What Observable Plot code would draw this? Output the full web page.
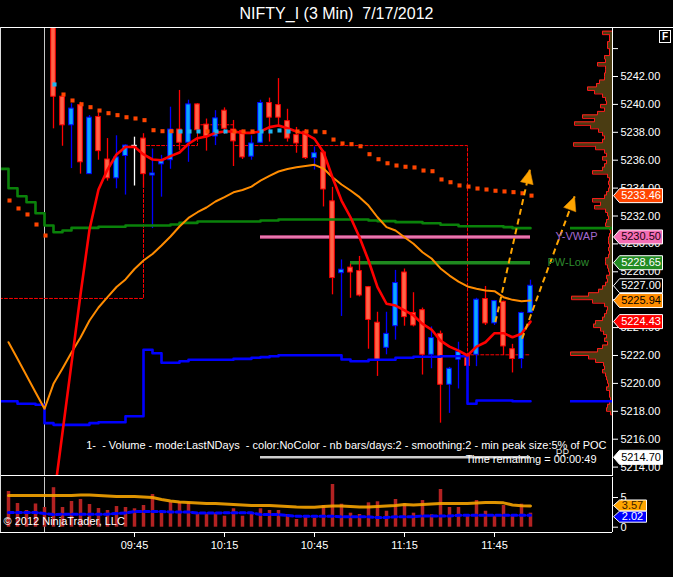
<!DOCTYPE html>
<html><head><meta charset="utf-8">
<script src="https://cdn.jsdelivr.net/npm/d3@7"></script>
<script src="https://cdn.jsdelivr.net/npm/@observablehq/plot@0.6"></script>
<style>
html,body{margin:0;padding:0;background:#000;}
#wrap{position:relative;width:673px;height:577px;background:#000;overflow:hidden;font-family:"Liberation Sans",Arial,sans-serif;}
#title{position:absolute;left:0;top:0;width:673px;height:27px;line-height:28px;text-align:center;color:#fff;font-size:16px;white-space:pre;}
#main{position:absolute;left:0;top:28px;}
#vol{position:absolute;left:0;top:477px;}
.hl{position:absolute;background:#fff;}
#fbox{position:absolute;left:659px;top:30px;width:10px;height:11px;border:1px solid #fff;color:#fff;font-size:10px;font-weight:bold;line-height:11px;text-align:center;}
svg{display:block;overflow:visible;}
</style></head>
<body>
<div id="wrap">
  <div id="title">NIFTY_I (3 Min)  7/17/2012</div>
  <div id="main"></div>
  <div id="vol"></div>
  <div class="hl" style="left:0;top:27px;width:673px;height:1px;"></div>
  <div class="hl" style="left:0;top:475px;width:612px;height:1px;"></div>
  <div class="hl" style="left:0;top:27px;width:1px;height:505px;background:#ddd;"></div>
  <div id="fbox">F</div>
</div>
<script>
// ---------------- data (times are minutes after midnight, 3-minute bars) ----------------
const priorTimesStart = 543;   // last bars of previous session shown at the left
const sessionStart = 558;      // first bar of 7/17 session drawn as candle
const lastBar = 717;
const sessionBreak = 555;

const opens  = [5246.6,5240.55,5238.5,5239.95,5235.0,5239.1,5236.05,5234.7,5236.3,5237.05,5237.55,5234.9,5235.7,5236.0,5238.2,5237.25,5240.0,5238.55,5237.7,5239.55,5238.2,5238.1,5236.25,5237.25,5240.1,5239.95,5238.8,5237.8,5238.05,5236.15,5236.55,5233.05,5227.9,5228.3,5228.05,5226.9,5224.35,5222.55,5224.1,5227.95,5225.05,5225.25,5222.05,5223.55,5219.9,5221.7,5222.0,5222.05,5226.05,5224.3,5225.85,5222.45,5221.75,5225.05];
const highs  = [5247.2,5240.6,5240.05,5240.15,5239.2,5239.4,5237.55,5237.75,5237.1,5237.65,5237.9,5236.8,5236.35,5239.8,5241.0,5240.3,5240.05,5238.95,5239.55,5239.75,5238.85,5238.15,5237.75,5240.3,5240.45,5241.85,5239.65,5238.35,5238.2,5236.95,5236.7,5234.05,5228.85,5228.55,5229.1,5226.95,5225.1,5225.1,5228.1,5228.2,5226.5,5225.4,5224.05,5223.75,5221.15,5222.95,5222.1,5226.1,5226.95,5225.95,5225.9,5222.8,5225.1,5227.4];
const lows   = [5238.25,5237.0,5235.4,5235.0,5235.0,5236.0,5234.5,5233.95,5233.5,5234.15,5234.0,5231.1,5233.35,5235.35,5236.7,5235.85,5237.9,5236.65,5237.05,5237.85,5235.55,5236.05,5236.0,5237.2,5237.3,5238.35,5237.3,5236.5,5236.05,5235.3,5232.65,5226.35,5224.8,5226.1,5226.2,5222.45,5220.5,5222.05,5223.1,5224.1,5224.05,5220.6,5221.05,5217.15,5217.85,5219.6,5220.15,5221.2,5224.15,5224.15,5222.0,5220.75,5221.05,5225.0];
const closes = [5240.55,5238.5,5239.7,5235.85,5239.05,5236.65,5234.7,5236.2,5237.05,5237.05,5235.0,5235.05,5236.0,5238.2,5237.25,5240.0,5238.15,5237.7,5239.0,5238.25,5237.35,5236.2,5237.2,5240.1,5239.05,5239.05,5237.55,5237.2,5236.15,5236.5,5233.9,5227.55,5228.15,5227.95,5226.3,5224.55,5221.65,5223.55,5227.2,5224.75,5224.15,5222.05,5223.25,5219.9,5221.05,5222.25,5221.25,5226.0,5224.3,5225.9,5222.65,5221.75,5225.05,5227.0];

// fast moving average (red) – session bars
const fastMA = [5211.55,5216.48,5221.43,5226.37,5231.03,5233.9,5235.33,5236.41,5236.95,5236.96,5236.41,5236.05,5236.0,5236.29,5236.55,5237.18,5237.58,5237.7,5237.96,5238.06,5238.06,5237.96,5237.96,5238.06,5238.37,5238.49,5238.29,5238.06,5237.89,5237.53,5236.57,5234.76,5233.11,5231.91,5230.48,5228.81,5226.9,5225.71,5225.58,5225.23,5224.87,5224.27,5223.86,5223.07,5222.64,5222.35,5222.0,5222.64,5222.95,5223.6,5223.6,5223.31,5223.56,5224.43];
// slow average (orange) – from 543
const slowMA = [5222.95,5221.76,5220.57,5219.37,5218.18,5219.97,5221.07,5222.22,5223.29,5224.51,5225.44,5226.18,5226.91,5227.45,5228.2,5228.81,5229.28,5229.89,5230.53,5231.25,5231.86,5232.27,5232.61,5233.04,5233.36,5233.7,5233.86,5234.11,5234.54,5234.87,5235.19,5235.37,5235.49,5235.58,5235.67,5235.4,5234.78,5234.26,5233.83,5233.35,5232.75,5231.91,5231.2,5230.96,5230.48,5230.01,5229.4,5228.95,5228.24,5227.73,5227.3,5226.95,5226.78,5226.66,5226.61,5226.18,5225.99,5225.89,5225.94];
// trailing stop dots – from 543
const trailDots = [5233.11,5232.54,5232.11,5231.39,5230.6,5241.43,5240.71,5240.28,5240.01,5239.8,5239.56,5239.37,5239.23,5239.08,5238.99,5238.87,5238.15,5238.08,5238.08,5238.06,5238.06,5238.06,5238.06,5238.06,5238.06,5238.06,5238.06,5238.06,5238.06,5238.06,5238.13,5238.06,5238.06,5238.06,5238.06,5238.01,5237.48,5237.2,5237.15,5237.0,5236.43,5236.07,5235.78,5235.62,5235.53,5235.48,5235.26,5235.21,5234.62,5234.42,5234.19,5234.11,5233.97,5233.9,5233.81,5233.76,5233.71,5233.63,5233.46];
const trailCyanTimes = [558,600,603,606,612,615,627,630,633,636];
// step levels (green, blue) – from 540
const greenLevels = [5235.38,5233.99,5233.42,5232.99,5232.2,5231.32,5230.84,5230.96,5231.15,5231.15,5231.15,5231.23,5231.23,5231.23,5231.32,5231.32,5231.32,5231.32,5231.32,5231.39,5231.51,5231.51,5231.61,5231.61,5231.61,5231.61,5231.61,5231.61,5231.61,5231.68,5231.68,5231.75,5231.75,5231.75,5231.75,5231.75,5231.75,5231.75,5231.75,5231.75,5231.75,5231.68,5231.63,5231.63,5231.56,5231.56,5231.56,5231.48,5231.48,5231.37,5231.37,5231.27,5231.27,5231.27,5231.27,5231.27,5231.2,5231.13,5231.13,5231.13];
const blueLevels = [5218.72,5218.72,5218.54,5218.54,5218.47,5217.15,5217.03,5217.03,5217.03,5217.03,5217.15,5217.22,5217.22,5217.22,5217.65,5217.65,5222.41,5222.16,5221.48,5221.48,5221.59,5221.69,5221.69,5221.69,5221.69,5221.69,5221.76,5221.76,5221.84,5221.88,5221.95,5222.02,5222.02,5222.02,5222.02,5222.02,5222.02,5222.02,5221.71,5221.59,5221.59,5221.69,5221.69,5221.69,5221.84,5221.84,5221.91,5221.91,5221.91,5221.95,5221.95,5221.95,5218.54,5218.77,5218.77,5218.77,5218.77,5218.72,5218.72,5218.72];
// red dashed step level
const dashTimes  = [540, 588, 606, 618, 696, 717];
const dashLevels = [5226.09, 5237.05, 5238.54, 5237.05, 5222.05, 5222.05];
// horizontal levels
const yVwap = 5230.50, yVwapFrom = 627;
const pwLow = 5228.65, pwLowFrom = 657;
const lowLine = 5214.70, lowLineFrom = 627;
// hand-drawn arrows
const arrowT1 = [705.3, 714.2], arrowP1 = [5224.4, 5223.2];
const arrowT2 = [716.8, 731.7], arrowP2 = [5235.33, 5233.4];
// volume profile (relative volume per 0.25 pt, from 5245.25 downward)
const profileTop = 5245.25, profileStep = 0.25;
const profileVolume = [0,10,3,3,5,5,3,3,8,7,15,7,7,8,8,13,16,25,18,10,7,6,12,8,15,30,18,38,22,14,10,8,10,39,17,8,6,10,6,8,10,20,5,3,4,3,4,6,8,20,12,18,7,5,4,6,7,3,2,3,4,4,3,4,3,4,7,7,5,4,3,6,5,7,10,14,24,41,20,8,5,6,8,10,17,19,12,9,6,8,5,10,15,42,24,17,9,8,10,7,6,5,4,6,3,3,2,3,5,6,2,0];
// volume panel – from 543
const volume = [6.01,3.99,2.81,3.91,3.32,6.65,3.32,4.33,4.66,3.82,3.15,2.81,3.48,3.32,3.1,3.65,5.5,2.36,4.16,4.16,4.1,2.19,2.19,2.36,1.85,3.1,1.85,2.36,3.1,2.81,2.81,2.14,1.3,1.85,1.52,3.65,7.19,3.87,2.36,2.14,4.1,4.28,2.69,4.66,3.94,2.36,4.49,2.09,6.35,3.32,3.32,1.85,4.49,2.69,1.85,3.65,1.85,3.87,2.36];
const volumeMA = [5.34,5.34,5.34,5.34,5.34,5.34,5.34,5.34,5.42,5.42,5.34,5.25,5.17,5.17,5.17,5.08,5.0,4.66,4.41,4.24,4.16,4.07,3.99,3.99,3.91,3.82,3.74,3.65,3.65,3.65,3.57,3.48,3.4,3.37,3.37,3.48,3.57,3.57,3.48,3.4,3.4,3.48,3.57,3.65,3.82,3.74,3.82,3.91,3.99,3.99,3.99,3.99,4.07,4.16,4.16,4.1,3.75,3.62,3.57];
const volumeAvg = [2.47,2.47,2.47,2.47,2.3,2.14,2.19,2.19,2.19,2.19,2.19,2.19,2.3,2.39,2.64,2.64,2.64,2.64,2.56,2.56,2.56,2.39,2.39,2.39,2.42,2.42,2.42,2.42,2.14,2.14,2.14,1.97,1.85,1.85,1.85,1.85,1.85,1.75,1.75,1.75,1.75,1.63,1.63,1.75,1.75,1.75,1.89,1.89,1.89,1.89,2.02,2.02,2.02,2.02,2.02,2.02,2.02,2.02,2.02];
// axes & labels
const timeTicks = [585, 615, 645, 675, 705];
const priceTicks = [5214,5216,5218,5220,5222,5224,5226,5228,5230,5232,5234,5236,5238,5240,5242,5244];
const volumeTicks = [0, 5];
const tagPrices = [5233.46, 5230.50, 5228.65, 5227.00, 5225.94, 5224.43, 5214.70];
const tagFills  = ["#FF4500", "#F46EB4", "#228B22", "#000000", "#FF8C00", "#FF0000", "#FFFFFF"];
const tagInks   = ["#FFFFFF", "#1a0010", "#FFFFFF", "#FFFFFF", "#000000", "#FFFFFF", "#000000"];
const volTagValues = [3.57, 2.02];
const volTagFills = ["#FFA500", "#0000FF"];
const volTagInks = ["#3a2000", "#FFFFFF"];
const studyText = "1-\u00A0\u00A0- Volume - mode:LastNDays\u00A0\u00A0- color:NoColor - nb bars/days:2 - smoothing:2 - min peak size:5% of POC";
const timerText = "Time remaining = 00:00:49";

// ---------------- geometry of the panels ----------------
const T_LEFT = 540.333, T_AXIS = 744.333;
const P_MIN = 5213.326, P_MAX = 5245.441;
const V_MIN = -0.892, V_MAX = 8.367;
const PX_PER_MIN = 612 / (T_AXIS - T_LEFT);
const PX_PER_PT = 448 / (P_MAX - P_MIN);
const PROFILE_MINUTES = 14;           // width of the POC row, in minutes of x
const profileMax = d3.max(profileVolume);

// ---------------- tables ----------------
const fullTimes = d3.range(priorTimesStart, lastBar + 1, 3);
const sessTimes = d3.range(sessionStart, lastBar + 1, 3);
const stepTimes = [540, ...fullTimes];
const candles = sessTimes.map((t, i) => ({t, o: opens[i], h: highs[i], l: lows[i], c: closes[i]}));
const up = d => d.c > d.o, down = d => d.c < d.o;
const fast = sessTimes.map((t, i) => ({t, v: fastMA[i]}));
const slow = fullTimes.map((t, i) => ({t, v: slowMA[i]}));
const dots = fullTimes.map((t, i) => ({t, v: trailDots[i], cyan: trailCyanTimes.includes(t)}));
const green = stepTimes.map((t, i) => ({t, v: greenLevels[i]}));
const blue = stepTimes.map((t, i) => ({t, v: blueLevels[i]}));
const dash = dashTimes.map((t, i) => ({t, v: dashLevels[i]}));
const profile = profileVolume.map((w, i) => ({p: profileTop - i * profileStep, w}));
const arrows = arrowT1.map((t, i) => ({t1: t, p1: arrowP1[i], t2: arrowT2[i], p2: arrowP2[i],
  rot: Math.atan2((arrowT2[i] - t) * PX_PER_MIN, (arrowP2[i] - arrowP1[i]) * PX_PER_PT) * 180 / Math.PI}));
const tags = tagPrices.map((p, i) => ({p, fill: tagFills[i], ink: tagInks[i]}));
const vols = fullTimes.map((t, i) => ({t, v: volume[i], ma: volumeMA[i], avg: volumeAvg[i]}));
const volTags = volTagValues.map((v, i) => ({v, fill: volTagFills[i], ink: volTagInks[i]}));

const tagShape = (w, h) => ({draw(ctx) { const hh = h / 2; ctx.moveTo(0, 0); ctx.lineTo(6, -hh); ctx.lineTo(w, -hh); ctx.lineTo(w, hh); ctx.lineTo(6, hh); ctx.closePath(); }});
const arrowHead = {draw(ctx) { ctx.moveTo(0, 0); ctx.lineTo(-6.5, 14); ctx.lineTo(6.5, 14); ctx.closePath(); }};
const fmtTime = t => String(Math.floor(t / 60)).padStart(2, "0") + ":" + String(t % 60).padStart(2, "0");
const FONT = "Liberation Sans, Arial, sans-serif";

const upFill = "#0AA8FF", upLine = "#0000FF", dnFill = "#FF6347", dnLine = "#FF0000";

// ---------------- price panel ----------------
const mainPlot = Plot.plot({
  width: 673, height: 448,
  marginTop: 0, marginBottom: 0, marginLeft: 0, marginRight: 61,
  x: {domain: [T_LEFT, T_AXIS], axis: null},
  y: {domain: [P_MIN, P_MAX]},
  color: {type: "identity"},
  style: {background: "transparent", color: "#fff", fontFamily: FONT, fontSize: "11px", overflow: "visible"},
  marks: [
    // volume profile on the right edge
    Plot.areaX(profile, {y: "p", x1: () => T_AXIS, x2: d => T_AXIS - d.w / profileMax * PROFILE_MINUTES, curve: "step-after", fill: "#4a3c12", clip: true}),
    Plot.lineX(profile, {y: "p", x: d => T_AXIS - d.w / profileMax * PROFILE_MINUTES, curve: "step-after", stroke: "#FF1A1A", strokeWidth: 1, clip: true}),
    // session break
    Plot.ruleX([sessionBreak], {stroke: "#C8C8C8", strokeWidth: 1}),
    // dashed level
    Plot.line(dash, {x: "t", y: "v", curve: "step-after", stroke: "#FF0000", strokeWidth: 1, strokeDasharray: "3,2", clip: true}),
    // horizontal levels
    Plot.ruleY([yVwap], {x1: yVwapFrom, x2: lastBar, stroke: "#D0508F", strokeWidth: 3.5}),
    Plot.ruleY([yVwap], {x1: yVwapFrom, x2: lastBar, stroke: "#FF9BCB", strokeWidth: 1}),
    Plot.ruleY([pwLow], {x1: pwLowFrom, x2: lastBar, stroke: "#1F8A1F", strokeWidth: 3.5}),
    Plot.ruleY([lowLine], {x1: lowLineFrom, x2: lastBar, stroke: "#CFCFCF", strokeWidth: 2.5}),
    // candles
    Plot.ruleX(candles, {x: "t", y1: "l", y2: "h", stroke: d => up(d) ? upLine : down(d) ? dnLine : "#FFFFFF", strokeWidth: 1.3, clip: true}),
    Plot.rect(candles.filter(d => d.c !== d.o), {x1: d => d.t - 1.5, x2: d => d.t + 1.5, insetLeft: 2.2, insetRight: 2.2, y1: "o", y2: "c",
      fill: d => up(d) ? upFill : dnFill, stroke: d => up(d) ? upLine : dnLine, strokeWidth: 1, clip: true}),
    Plot.ruleY(candles.filter(d => d.c === d.o), {y: "o", x1: d => d.t - 0.9, x2: d => d.t + 0.9, stroke: "#FFFFFF", strokeWidth: 1.5, clip: true}),
    // indicators
    Plot.line(green, {x: "t", y: "v", curve: "step-after", stroke: "#0A820A", strokeWidth: 2.6, clip: true}),
    Plot.line(blue, {x: "t", y: "v", curve: "step-after", stroke: "#0000FF", strokeWidth: 2.6, clip: true}),
    Plot.ruleY([greenLevels[greenLevels.length - 1]], {x1: T_AXIS - PROFILE_MINUTES, x2: T_AXIS, stroke: "#0A820A", strokeWidth: 2.6}),
    Plot.ruleY([blueLevels[blueLevels.length - 1]], {x1: T_AXIS - PROFILE_MINUTES, x2: T_AXIS, stroke: "#0000FF", strokeWidth: 2.6}),
    Plot.line(slow, {x: "t", y: "v", stroke: "#FF8C00", strokeWidth: 2, clip: true}),
    Plot.line(fast, {x: "t", y: "v", stroke: "#FF0000", strokeWidth: 2.6, clip: true}),
    Plot.dot(dots, {x: "t", y: "v", symbol: "square", r: 2.3, dx: 1, fill: d => d.cyan ? "#1EB6F2" : "#FF4500", clip: true}),
    // drawn arrows
    Plot.link(arrows, {x1: "t1", y1: "p1", x2: "t2", y2: "p2", stroke: "#FFA500", strokeWidth: 2, strokeDasharray: "6,4"}),
    Plot.dot(arrows, {x: "t2", y: "p2", symbol: arrowHead, r: 5, rotate: "rot", fill: "#FFA500", stroke: "#E08A00", strokeWidth: 0.5}),
    // level labels
    Plot.text([yVwap], {x: () => lastBar, y: d => d, text: () => "Y-VWAP", dx: 25, textAnchor: "start", fill: "#A46AD0", fontSize: 11}),
    Plot.text([pwLow], {x: () => lastBar, y: d => d, text: () => "PW-Low", dx: 17, textAnchor: "start", fill: "#2E8B2E", fontSize: 11}),
    // study / timer texts
    Plot.text([studyText], {frameAnchor: "bottom-right", text: d => d, dx: -6, dy: -28, textAnchor: "end", fill: "#FFFFFF", fontSize: 11}),
    Plot.text(["PP"], {frameAnchor: "bottom-right", text: d => d, dx: -50, dy: -20, textAnchor: "middle", fill: "#D8D8D8", fontSize: 10}),
    Plot.text([timerText], {frameAnchor: "bottom-right", text: d => d, dx: -16, dy: -14, textAnchor: "end", fill: "#FFFFFF", fontSize: 11}),
    // price axis
    Plot.ruleX([T_AXIS], {stroke: "#FFFFFF", strokeWidth: 1}),
    Plot.axisY({anchor: "right", ticks: priceTicks, tickFormat: d => d === 5244 ? "" : d.toFixed(2), tickSize: 5, tickPadding: 3, fontSize: 11, label: null}),
    Plot.dot(tags, {x: () => T_AXIS, y: "p", symbol: tagShape(49, 14), r: 5, dx: 1, fill: "fill", stroke: "#FFFFFF", strokeWidth: 1}),
    Plot.text(tags, {x: () => T_AXIS, y: "p", text: d => d.p.toFixed(2), dx: 28.5, textAnchor: "middle", fill: "ink", fontSize: 11})
  ]
});
document.getElementById("main").appendChild(mainPlot);

// ---------------- volume panel ----------------
const volPlot = Plot.plot({
  width: 673, height: 100,
  marginTop: 0, marginBottom: 45, marginLeft: 0, marginRight: 61,
  x: {domain: [T_LEFT, T_AXIS]},
  y: {domain: [V_MIN, V_MAX]},
  color: {type: "identity"},
  style: {background: "transparent", color: "#fff", fontFamily: FONT, fontSize: "11px", overflow: "visible"},
  marks: [
    Plot.ruleX([sessionBreak], {stroke: "#C8C8C8", strokeWidth: 1}),
    Plot.ruleX(vols, {x: "t", y1: 0, y2: "v", stroke: "#B22222", strokeWidth: 3.5}),
    Plot.line(vols, {x: "t", y: "avg", stroke: "#0000FF", strokeWidth: 3, strokeDasharray: "5,3"}),
    Plot.line(vols, {x: "t", y: "ma", stroke: "#F5A300", strokeWidth: 3, strokeOpacity: 0.9}),
    Plot.text(["\u00A9 2012 NinjaTrader, LLC"], {frameAnchor: "bottom-left", text: d => d, dx: 3, dy: -8, textAnchor: "start", fill: "#FFFFFF", fontSize: 11}),
    Plot.ruleX([T_AXIS], {stroke: "#FFFFFF", strokeWidth: 1}),
    Plot.ruleY([V_MIN], {stroke: "#FFFFFF", strokeWidth: 1}),
    Plot.axisX({anchor: "bottom", ticks: timeTicks, tickFormat: fmtTime, tickSize: 5, tickPadding: 4, fontSize: 11, label: null}),
    Plot.axisY({anchor: "right", ticks: volumeTicks, tickFormat: d => String(d), tickSize: 5, tickPadding: 3, fontSize: 11, label: null}),
    Plot.dot(volTags.slice(0, 1), {x: () => T_AXIS, y: "v", symbol: tagShape(33, 11), r: 5, dx: 1, dy: -0.5, fill: "fill", stroke: "#FFFFFF", strokeWidth: 1}),
    Plot.text(volTags.slice(0, 1), {x: () => T_AXIS, y: "v", text: d => d.v.toFixed(2), dx: 20, dy: -0.5, textAnchor: "middle", fill: "ink", fontSize: 11}),
    Plot.dot(volTags.slice(1), {x: () => T_AXIS, y: "v", symbol: tagShape(33, 11), r: 5, dx: 1, dy: 1.5, fill: "fill", stroke: "#FFFFFF", strokeWidth: 1}),
    Plot.text(volTags.slice(1), {x: () => T_AXIS, y: "v", text: d => d.v.toFixed(2), dx: 20, dy: 1.5, textAnchor: "middle", fill: "ink", fontSize: 11})
  ]
});
document.getElementById("vol").appendChild(volPlot);
</script>
</body></html>
